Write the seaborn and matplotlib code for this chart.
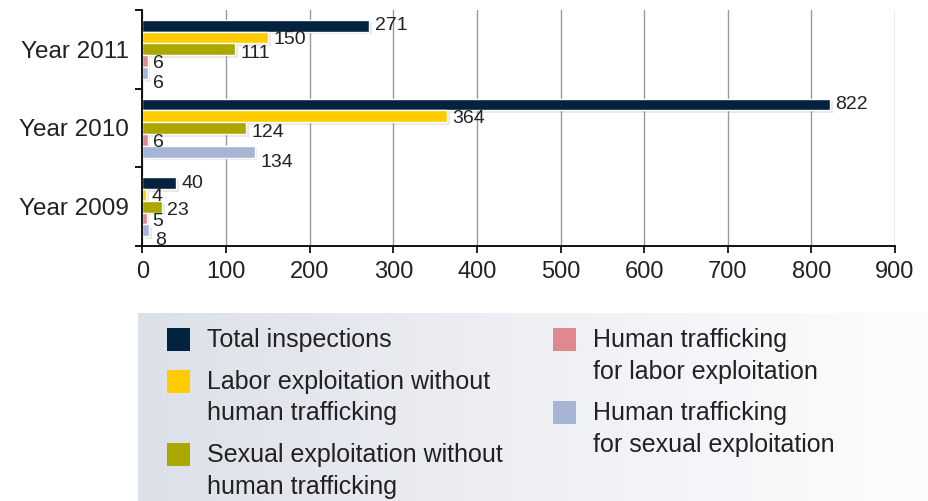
import matplotlib.pyplot as plt
import matplotlib.patheffects as pe
import numpy as np
import pandas as pd
import seaborn as sns
from matplotlib.colors import LinearSegmentedColormap
from matplotlib.patches import Patch

years = ["Year 2011", "Year 2010", "Year 2009"]
series = [
    "Total inspections",
    "Labor exploitation without\nhuman trafficking",
    "Sexual exploitation without\nhuman trafficking",
    "Human trafficking\nfor labor exploitation",
    "Human trafficking\nfor sexual exploitation",
]
total_inspections = [271, 822, 40]
labor_no_ht = [150, 364, 4]
sexual_no_ht = [111, 124, 23]
ht_labor = [6, 6, 5]
ht_sexual = [6, 134, 8]
colors = ["#03223f", "#ffcc00", "#aaa800", "#e0888f", "#a6b5d6"]
x_ticks = [0, 100, 200, 300, 400, 500, 600, 700, 800, 900]

rows = []
for s, vals in zip(series, [total_inspections, labor_no_ht, sexual_no_ht, ht_labor, ht_sexual]):
    for y, v in zip(years, vals):
        rows.append({"year": y, "series": s, "value": v})
df = pd.DataFrame(rows)

sns.set_style("white")
plt.rcParams["font.family"] = ["Liberation Sans", "DejaVu Sans"]

W, H = 929, 501
fig = plt.figure(figsize=(W / 100, H / 100), dpi=100)
ax = fig.add_axes([142.5 / W, 1 - 246 / H, (895 - 142.5) / W, 236 / H])

sns.barplot(
    data=df,
    x="value",
    y="year",
    hue="series",
    order=years,
    hue_order=series,
    palette=colors,
    saturation=1,
    width=0.75,
    orient="h",
    errorbar=None,
    legend=False,
    ax=ax,
)

# soft shadow like the original
for patch in ax.patches:
    patch.set_path_effects([
        pe.SimplePatchShadow(offset=(2, -2), shadow_rgbFace="#999999", alpha=0.22),
        pe.Normal(),
    ])

# labels sit a little lower for the later series, as in the source
label_drop = [0, 1.5, 3, 2, 7.5]
for container, drop in zip(ax.containers, label_drop):
    labels = ax.bar_label(container, fmt="%d", padding=4, fontsize=14, color="#222222")
    for lab in labels:
        lab.xyann = (lab.xyann[0], lab.xyann[1] - drop)

ax.set_xlim(0, 900)
ax.set_ylim(2.5, -0.5)
ax.set_xticks(x_ticks)
ax.set_yticks([-0.5, 0.5, 1.5, 2.5], minor=True)
ax.grid(axis="x", color="#999999", lw=1)
ax.grid(axis="y", visible=False)
ax.set_axisbelow(True)
ax.set_xlabel("")
ax.set_ylabel("")

for side in ["top", "right"]:
    ax.spines[side].set_visible(False)
for side in ["left", "bottom"]:
    ax.spines[side].set_color("black")
    ax.spines[side].set_linewidth(1.3)

ax.tick_params(axis="x", which="major", length=5, width=1.2, color="black",
               direction="out", bottom=True, labelsize=17, pad=6, labelcolor="#222222")
ax.tick_params(axis="y", which="major", length=0, labelsize=17.5, pad=10,
               labelcolor="#222222")
ax.tick_params(axis="y", which="minor", length=5, width=1.3, color="black",
               direction="out", left=True)

# legend background with gradient
lax = fig.add_axes([138 / W, 0, 1 - 138 / W, (H - 312.5) / H])
cmap = LinearSegmentedColormap.from_list("bg", ["#dce0e8", "#eef0f4", "#fdfdfe"])
lax.imshow(np.linspace(0, 1, 256)[None, :], aspect="auto", cmap=cmap, extent=[0, 1, 0, 1])
lax.set_axis_off()

handles = [Patch(facecolor=c, edgecolor="none") for c in colors]
legend_kw = dict(
    loc="upper left",
    frameon=False,
    fontsize=18,
    borderpad=0,
    borderaxespad=0,
    handlelength=0.92,
    handleheight=1.04,
    handletextpad=0.7,
    labelspacing=0.7,
    labelcolor="#222222",
)
leg1 = fig.legend(handles[:3], series[:3], bbox_to_anchor=(167 / W, 1 - 328 / H), **legend_kw)
leg2 = fig.legend(handles[3:], series[3:], bbox_to_anchor=(553 / W, 1 - 328 / H), **legend_kw)
for leg in (leg1, leg2):
    for t in leg.get_texts():
        t.set_linespacing(1.41)
    # put the square next to the first line of each label
    for col in leg._legend_handle_box.get_children():
        for item in col.get_children():
            item.align = "top"

fig.savefig("out.png", dpi=100)
